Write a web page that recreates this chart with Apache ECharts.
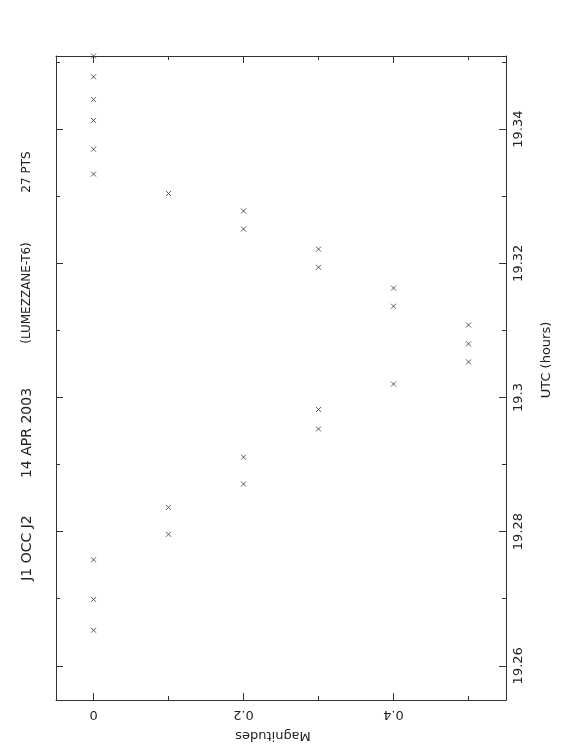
<!DOCTYPE html>
<html>
<head>
<meta charset="utf-8">
<script src="https://cdn.jsdelivr.net/npm/echarts@6/dist/echarts.min.js"></script>
<style>
html,body{margin:0;padding:0;background:#fff;}
#chart{width:562px;height:756px;}
</style>
</head>
<body>
<div id="chart"></div>
<script>
// ---- data ----
const magnitudes = [0, 0, 0, 0, 0, 0, 0.1, 0.2, 0.2, 0.3, 0.3, 0.4, 0.4, 0.5, 0.5, 0.5, 0.4, 0.3, 0.3, 0.2, 0.2, 0.1, 0.1, 0, 0, 0];
const utcHours = [19.3509, 19.3478, 19.3444, 19.3413, 19.3370, 19.3333, 19.3304, 19.3278, 19.3251, 19.3221, 19.3194, 19.3163, 19.3136, 19.3108, 19.3080, 19.3053, 19.3020, 19.2982, 19.2953, 19.2911, 19.2871, 19.2836, 19.2796, 19.2758, 19.2699, 19.2653];
const magMajorTicks = [0, 0.2, 0.4];
const magMinorTicks = [0.1, 0.3, 0.5];
const utcMajorTicks = [19.26, 19.28, 19.3, 19.32, 19.34];
const utcMinorTicks = [19.27, 19.29, 19.31, 19.33, 19.35];
const titleParts = ['J1 OCC J2', '14 APR 2003', '(LUMEZZANE-T6)', '27 PTS'];
const xName = 'Magnitudes';
const yName = 'UTC (hours)';

const FONT = 'DejaVu Sans';
const INK = '#222';
const LINE = '#333';
const magRange = [-0.05, 0.55];
const utcRange = [19.2549, 19.3509];

function xAx(pos, ticks, len, showLine, labels) {
  return {
    type: 'value', position: pos, min: magRange[0], max: magRange[1],
    axisLine: {show: showLine, onZero: false, lineStyle: {color: LINE, width: 1}},
    axisTick: {show: true, inside: true, length: len, customValues: ticks, lineStyle: {color: LINE, width: 1}},
    axisLabel: labels ? {show: true, customValues: ticks, rotate: 180, margin: 8, color: INK, fontFamily: FONT, fontSize: 13} : {show: false},
    splitLine: {show: false}
  };
}
function yAx(pos, ticks, len, showLine, labels) {
  return {
    type: 'value', position: pos, min: utcRange[0], max: utcRange[1],
    axisLine: {show: showLine, onZero: false, lineStyle: {color: LINE, width: 1}},
    axisTick: {show: true, inside: true, length: len, customValues: ticks, lineStyle: {color: LINE, width: 1}},
    axisLabel: labels ? {show: true, customValues: ticks, rotate: 90, margin: 6, color: INK, fontFamily: FONT, fontSize: 13} : {show: false},
    splitLine: {show: false}
  };
}

const chart = echarts.init(document.getElementById('chart'), null, {renderer: 'canvas'});
const titleY = [548, 433, 293, 172];
const titleSize = [14, 14, 12, 12];
const graphics = titleParts.map((t, i) => ({
  type: 'text', x: 27, y: titleY[i], rotation: Math.PI / 2,
  style: {text: t, fill: INK, font: titleSize[i] + 'px "' + FONT + '"', align: 'center', verticalAlign: 'middle'}
}));
graphics.push({
  type: 'text', x: 273, y: 735, rotation: Math.PI,
  style: {text: xName, fill: INK, font: '13px "' + FONT + '"', align: 'center', verticalAlign: 'middle'}
});
graphics.push({
  type: 'text', x: 547, y: 360, rotation: Math.PI / 2,
  style: {text: yName, fill: INK, font: '13px "' + FONT + '"', align: 'center', verticalAlign: 'middle'}
});

chart.setOption({
  animation: false,
  backgroundColor: '#fff',
  grid: {left: 56, top: 56, width: 450, height: 644, containLabel: false, outerBoundsMode: 'none'},
  xAxis: [
    xAx('bottom', magMajorTicks, 7, true, true),
    xAx('bottom', magMinorTicks, 4, false, false),
    xAx('top', magMajorTicks, 7, true, false),
    xAx('top', magMinorTicks, 4, false, false)
  ],
  yAxis: [
    yAx('right', utcMajorTicks, 7, true, true),
    yAx('right', utcMinorTicks, 4, false, false),
    yAx('left', utcMajorTicks, 7, true, false),
    yAx('left', utcMinorTicks, 4, false, false)
  ],
  graphic: graphics,
  series: [{
    type: 'scatter',
    xAxisIndex: 0, yAxisIndex: 0,
    clip: false,
    data: magnitudes.map((m, i) => [m, utcHours[i]]),
    symbol: 'path://M0,0L10,10M10,0L0,10',
    symbolSize: 5,
    itemStyle: {color: 'none', borderColor: '#333', borderWidth: 1},
    emphasis: {disabled: true}
  }]
});
</script>
</body>
</html>
